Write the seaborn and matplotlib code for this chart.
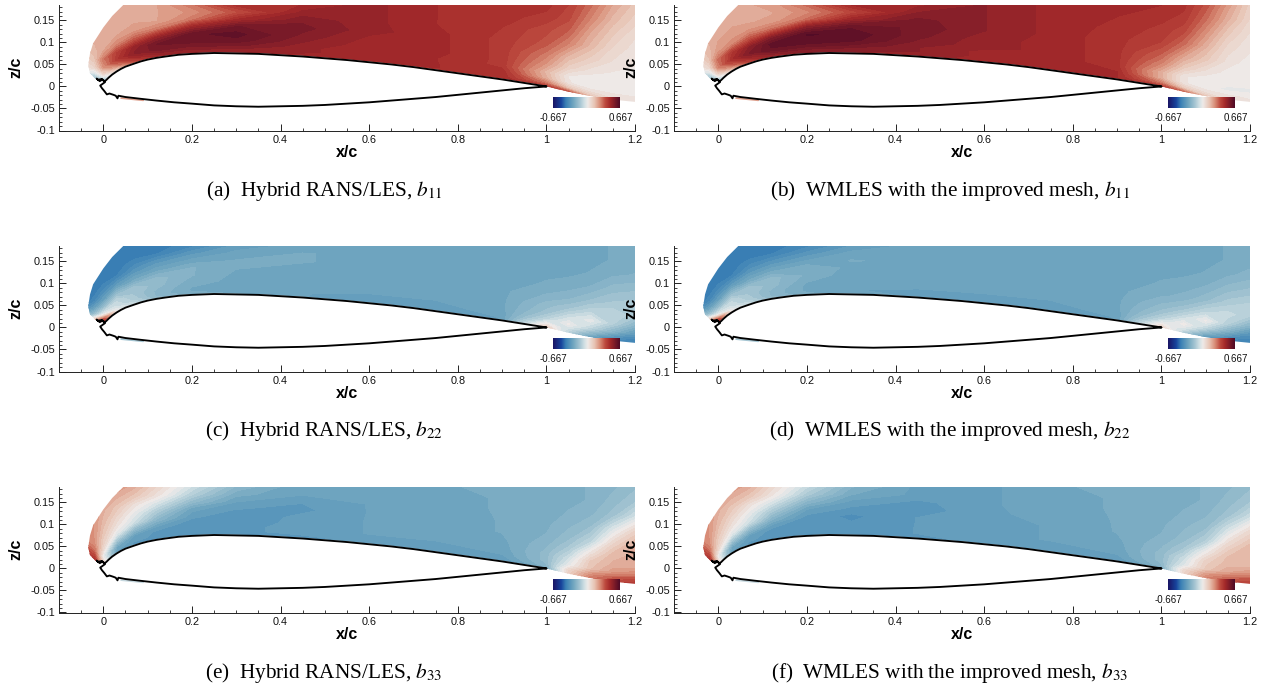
import numpy as np
import matplotlib
matplotlib.use("Agg")
import matplotlib.pyplot as plt
import seaborn as sns
from matplotlib.colors import LinearSegmentedColormap
from matplotlib.patches import Polygon

sns.set_theme(style="ticks")
plt.rcParams['font.family'] = ['Liberation Sans', 'DejaVu Sans']
plt.rcParams['mathtext.fontset'] = 'stix'

VMAX = 0.667
foil_x = [1,.95,.9,.85,.8,.75,.7,.65,.6,.55,.5,.45,.4,.35,.3,.25,.2,.17,.14,.12,.1,.085,.07,.05,.04,.03,.02,.012,.006,.002,-.004,-.012,-.015,-.008,-.002,.004,-.007,-.003,.002,.008,.014,.023,.028,.032,.034,.05,.084,.12,.16,.2,.25,.3,.35,.4,.45,.5,.55,.6,.65,.7,.75,.8,.85,.9,.95,1]
foil_z = [0,.008,.016,.023,.03,.037,.044,.05,.055,.06,.064,.068,.071,.074,.075,.076,.074,.072,.068,.065,.061,.057,.052,.045,.04,.034,.027,.02,.014,.012,.017,.015,.018,.012,.016,.01,.002,-.004,-.01,-.018,-.016,-.019,-.021,-.027,-.021,-.024,-.028,-.032,-.036,-.039,-.043,-.045,-.046,-.045,-.044,-.042,-.039,-.036,-.032,-.028,-.024,-.019,-.014,-.009,-.004,0]

stations = [-.04,-.02,0,.03,.07,.12,.2,.3,.45,.6,.75,.9,1,1.05,1.1,1.15,1.2]
floor_z = [.01,.012,.012,.034,.052,.061,.074,.075,.068,.055,.037,.016,0,-.012,-.022,-.03,-.035]
etas = [0,.04,.1,.18,.28,.4,.55,.7,.85,1]
top_z = 0.185
edge_x = [-.005,-.018,-.03,-.034,-.03,-.023,0,.02,.045,1.2,1.2,1.15,1.1,1.05,1,.5,.1,.03]
edge_z = [.012,.018,.03,.048,.075,.098,.134,.16,.185,.185,-.035,-.03,-.022,-.012,0,0,.03,.02]
sliver_x = [.04,.06,.09]
sliver_z = [-.0265,-.0285,-.0315]
sliver_colors = ["#dd9f8c","#dd9f8c","#a5c5d2","#a5c5d2","#c5d7de","#c5d7de"]

b11_hybrid = [
 [-.2,-.2,-.15,.05,.3,.4,.48,.5,.48,.45,.45,.45,.4,.35,.15,.08,.06],
 [-.15,-.15,-.05,.15,.38,.45,.5,.5,.48,.46,.46,.45,.3,.15,.08,.06,.05],
 [-.05,-.05,.1,.3,.45,.5,.52,.52,.5,.46,.46,.45,.2,.05,.02,.02,.02],
 [.05,.1,.25,.42,.52,.56,.56,.56,.5,.46,.46,.42,.18,.04,.02,.03,.03],
 [.1,.15,.3,.4,.5,.58,.6,.6,.52,.47,.47,.42,.25,.12,.06,.04,.03],
 [.15,.18,.22,.28,.36,.5,.6,.62,.54,.48,.47,.42,.3,.18,.12,.07,.05],
 [.2,.2,.22,.22,.25,.3,.48,.58,.56,.5,.47,.42,.36,.28,.18,.1,.06],
 [.2,.22,.22,.22,.22,.22,.3,.46,.54,.5,.46,.43,.38,.34,.22,.14,.08],
 [.22,.22,.22,.22,.22,.22,.26,.36,.5,.5,.46,.44,.42,.38,.28,.18,.12],
 [.22,.22,.22,.22,.22,.22,.3,.44,.46,.5,.46,.44,.44,.4,.32,.22,.15]]
b11_wmles = [
 [-.2,-.2,-.15,.05,.32,.42,.5,.52,.5,.47,.47,.46,.4,.32,.14,.07,.05],
 [-.15,-.15,-.05,.18,.4,.48,.52,.52,.5,.48,.48,.46,.3,.14,.07,.05,.04],
 [-.05,-.05,.12,.33,.48,.52,.55,.54,.52,.48,.48,.46,.2,.05,.02,.01,.01],
 [.05,.1,.28,.45,.55,.6,.6,.58,.52,.48,.48,.44,.2,.05,.02,.02,.02],
 [.1,.16,.32,.42,.52,.62,.63,.62,.54,.5,.48,.44,.28,.14,.07,.03,.02],
 [.15,.18,.24,.28,.38,.54,.64,.63,.56,.5,.48,.44,.34,.22,.14,.06,.03],
 [.2,.2,.22,.23,.26,.32,.52,.6,.57,.52,.48,.44,.4,.32,.2,.09,.05],
 [.2,.22,.22,.22,.22,.23,.32,.48,.56,.52,.48,.45,.42,.38,.26,.14,.07],
 [.22,.22,.22,.22,.22,.22,.27,.38,.52,.52,.48,.46,.44,.42,.32,.2,.1],
 [.22,.22,.22,.22,.22,.23,.32,.46,.48,.52,.48,.46,.46,.44,.36,.24,.12]]
b22_hybrid = [
 [.45,.45,.5,.05,-.05,-.15,-.22,-.25,-.28,-.3,-.3,-.28,.15,-.1,-.3,-.38,-.4],
 [.1,.1,.35,0,-.08,-.18,-.24,-.26,-.28,-.3,-.3,-.28,.05,-.05,-.2,-.33,-.38],
 [-.2,-.15,0,-.05,-.12,-.2,-.26,-.27,-.28,-.29,-.29,-.27,-.08,.02,-.08,-.2,-.3],
 [-.35,-.28,-.15,-.08,-.14,-.2,-.25,-.27,-.27,-.28,-.28,-.26,-.15,-.05,0,-.1,-.2],
 [-.42,-.38,-.28,-.18,-.14,-.18,-.24,-.26,-.27,-.27,-.28,-.26,-.18,-.14,-.08,-.08,-.12],
 [-.42,-.42,-.36,-.3,-.24,-.18,-.22,-.26,-.26,-.27,-.27,-.26,-.22,-.2,-.16,-.13,-.12],
 [-.42,-.42,-.42,-.4,-.32,-.26,-.22,-.25,-.26,-.27,-.27,-.27,-.25,-.24,-.22,-.18,-.17],
 [-.42,-.42,-.42,-.42,-.38,-.32,-.27,-.25,-.25,-.26,-.27,-.27,-.26,-.26,-.25,-.23,-.22],
 [-.42,-.42,-.42,-.42,-.42,-.4,-.32,-.27,-.25,-.26,-.27,-.27,-.27,-.27,-.26,-.25,-.24],
 [-.42,-.42,-.42,-.42,-.42,-.42,-.38,-.3,-.27,-.26,-.27,-.27,-.27,-.27,-.26,-.25,-.25]]
b22_wmles = [
 [.45,.45,.5,.05,-.05,-.15,-.22,-.26,-.29,-.3,-.3,-.28,.12,-.12,-.32,-.38,-.4],
 [.1,.1,.35,0,-.08,-.18,-.25,-.27,-.29,-.3,-.3,-.28,.04,-.04,-.22,-.34,-.38],
 [-.2,-.15,0,-.05,-.12,-.2,-.26,-.28,-.29,-.29,-.29,-.27,-.08,.03,-.08,-.22,-.32],
 [-.35,-.28,-.15,-.08,-.14,-.2,-.26,-.28,-.28,-.28,-.28,-.26,-.15,-.06,.02,-.1,-.2],
 [-.42,-.38,-.28,-.18,-.14,-.18,-.25,-.27,-.28,-.27,-.28,-.26,-.19,-.15,-.08,-.06,-.1],
 [-.42,-.42,-.36,-.3,-.24,-.18,-.23,-.27,-.27,-.27,-.27,-.26,-.23,-.21,-.17,-.12,-.1],
 [-.42,-.42,-.42,-.4,-.32,-.26,-.23,-.26,-.27,-.27,-.27,-.27,-.25,-.24,-.22,-.18,-.16],
 [-.42,-.42,-.42,-.42,-.38,-.33,-.28,-.25,-.26,-.26,-.27,-.27,-.26,-.26,-.25,-.23,-.21],
 [-.42,-.42,-.42,-.42,-.42,-.4,-.33,-.27,-.26,-.26,-.27,-.27,-.27,-.27,-.26,-.25,-.24],
 [-.42,-.42,-.42,-.42,-.42,-.42,-.38,-.31,-.27,-.26,-.27,-.27,-.27,-.27,-.26,-.25,-.25]]
b33_hybrid = [
 [.5,.5,.1,-.28,-.3,-.32,-.32,-.32,-.32,-.3,-.3,-.32,-.25,.12,.3,.38,.42],
 [.5,.45,.05,-.28,-.32,-.32,-.32,-.32,-.32,-.3,-.3,-.3,-.2,.1,.26,.34,.38],
 [.45,.38,0,-.25,-.3,-.32,-.32,-.32,-.3,-.3,-.3,-.28,-.18,0,.16,.24,.28],
 [.4,.3,.08,-.15,-.28,-.32,-.32,-.32,-.3,-.28,-.28,-.27,-.18,-.05,.14,.2,.2],
 [.3,.25,.12,-.02,-.18,-.28,-.33,-.33,-.3,-.28,-.27,-.26,-.2,-.12,.05,.18,.2],
 [.28,.25,.15,.05,-.05,-.2,-.3,-.34,-.3,-.28,-.27,-.25,-.22,-.17,-.08,.1,.2],
 [.28,.25,.18,.1,0,-.12,-.27,-.31,-.32,-.28,-.27,-.25,-.23,-.2,-.16,-.02,.1],
 [.25,.25,.2,.15,.06,-.03,-.18,-.28,-.31,-.28,-.26,-.25,-.24,-.22,-.2,-.15,-.05],
 [.25,.25,.22,.2,.15,.06,-.1,-.24,-.28,-.28,-.26,-.25,-.24,-.23,-.22,-.18,-.14],
 [.25,.25,.25,.25,.2,.1,-.05,-.2,-.28,-.28,-.26,-.24,-.24,-.23,-.22,-.2,-.17]]
b33_wmles = [
 [.5,.5,.1,-.28,-.3,-.32,-.32,-.33,-.32,-.3,-.3,-.32,-.25,.1,.28,.36,.4],
 [.5,.45,.05,-.28,-.32,-.33,-.33,-.33,-.32,-.3,-.3,-.3,-.2,.08,.24,.32,.36],
 [.45,.38,0,-.25,-.3,-.33,-.33,-.33,-.31,-.3,-.3,-.28,-.18,-.02,.14,.22,.26],
 [.4,.3,.08,-.15,-.28,-.33,-.33,-.33,-.31,-.29,-.28,-.27,-.18,-.06,.12,.18,.18],
 [.3,.25,.12,-.02,-.18,-.3,-.34,-.34,-.31,-.29,-.28,-.26,-.2,-.13,.03,.16,.18],
 [.28,.25,.15,.05,-.05,-.22,-.32,-.35,-.31,-.29,-.28,-.25,-.22,-.18,-.1,.08,.17],
 [.28,.25,.18,.1,0,-.13,-.28,-.32,-.33,-.29,-.27,-.25,-.23,-.2,-.17,-.04,.08],
 [.25,.25,.2,.15,.06,-.04,-.2,-.29,-.32,-.29,-.26,-.25,-.24,-.22,-.2,-.15,-.06],
 [.25,.25,.22,.2,.15,.05,-.12,-.25,-.29,-.29,-.26,-.25,-.24,-.23,-.22,-.18,-.14],
 [.25,.25,.25,.25,.2,.09,-.07,-.22,-.29,-.29,-.26,-.24,-.24,-.23,-.22,-.2,-.17]]

fields = [b11_hybrid, b11_wmles, b22_hybrid, b22_wmles, b33_hybrid, b33_wmles]
captions = [r"(a)  Hybrid RANS/LES, $b_{11}$", r"(b)  WMLES with the improved mesh, $b_{11}$",
            r"(c)  Hybrid RANS/LES, $b_{22}$", r"(d)  WMLES with the improved mesh, $b_{22}$",
            r"(e)  Hybrid RANS/LES, $b_{33}$", r"(f)  WMLES with the improved mesh, $b_{33}$"]
x_major = [0,.2,.4,.6,.8,1,1.2]
x_labels = ["0","0.2","0.4","0.6","0.8","1","1.2"]
z_major = [-.1,-.05,0,.05,.1,.15]
z_labels = ["-0.1","-0.05","0","0.05","0.1","0.15"]

cmap = LinearSegmentedColormap.from_list("tecplot", [
    (0,"#1a1464"),(.12,"#17439c"),(.19,"#3a80b5"),(.3,"#6fa5bf"),(.4,"#a5c5d2"),(.47,"#d2e0e4"),(.52,"#eeeae8"),
    (.62,"#e8c4b4"),(.7,"#d98e78"),(.78,"#bd4a3e"),(.85,"#a52a2a"),(1,"#4e0a26")])

W, H = 1268, 685
fig = plt.figure(figsize=(W/100, H/100), dpi=100)
lefts = [59, 674]
tops = [5, 246, 487]
cap_y = [191, 431, 673]
cap_cx = [324, 950]
ax_w, ax_h = 576, 125.5
X = np.array(stations)
levels = np.linspace(-VMAX, VMAX, 46)

for i, vals in enumerate(fields):
    r, c = i//2, i%2
    ax = fig.add_axes([lefts[c]/W, 1-(tops[r]+ax_h)/H, ax_w/W, ax_h/H])
    floor = np.array(floor_z)
    XX = np.tile(X, (len(etas), 1))
    ZZ = np.array([floor + e*(top_z-floor) for e in etas])
    cs = ax.contourf(XX, ZZ, np.array(vals), levels=levels, cmap=cmap, vmin=-VMAX, vmax=VMAX, extend="both", zorder=1)
    clip = Polygon(np.column_stack([edge_x, edge_z]), closed=True, transform=ax.transData, fc="none", ec="none")
    ax.add_patch(clip)
    cs.set_clip_path(clip)
    ax.fill(foil_x, foil_z, color="white", zorder=2)
    sns.lineplot(x=sliver_x, y=sliver_z, sort=False, estimator=None, color=sliver_colors[i], lw=1.2, ax=ax, zorder=2)
    sns.lineplot(x=foil_x, y=foil_z, sort=False, estimator=None, color="black", lw=1.35, ax=ax, zorder=3)
    ax.set_xlim(-.1, 1.2)
    ax.set_ylim(-.1, .185)
    ax.set_xticks(x_major, x_labels)
    ax.set_yticks(z_major, z_labels)
    ax.set_xticks(np.arange(-.1, 1.201, .05), minor=True)
    ax.set_yticks(np.arange(-.1, .1801, .01), minor=True)
    ax.tick_params(which="major", direction="in", length=5, width=.7, labelsize=7.8, pad=3, color="#222222", labelcolor="#111111")
    ax.tick_params(which="minor", direction="in", length=2.5, width=.6, color="#222222")
    for s in ("top", "right"):
        ax.spines[s].set_visible(False)
    for s in ("left", "bottom"):
        ax.spines[s].set_linewidth(.7)
        ax.spines[s].set_color("#222222")
    ax.set_facecolor("none")
    ax.set_xlabel("x/c", fontsize=11.5, fontweight="bold", labelpad=0, color="black")
    ax.set_ylabel("z/c", fontsize=11.5, fontweight="bold", labelpad=5, color="black")
    cax = ax.inset_axes([1.016, -.05, .151, .027], transform=ax.transData, zorder=5)
    cax.imshow(np.linspace(-VMAX, VMAX, 256)[None, :], cmap=cmap, aspect="auto", vmin=-VMAX, vmax=VMAX)
    cax.set_axis_off()
    ax.text(1.016, -.0725, "-0.667", ha="center", va="center", fontsize=7, color="#111111", zorder=5)
    ax.text(1.167, -.0725, "0.667", ha="center", va="center", fontsize=7, color="#111111", zorder=5)
    fig.text(cap_cx[c]/W, 1-cap_y[r]/H, captions[i], ha="center", va="center",
             fontsize=15.3, family="Liberation Serif", color="black")

fig.savefig("out.png", dpi=100, facecolor="white")
